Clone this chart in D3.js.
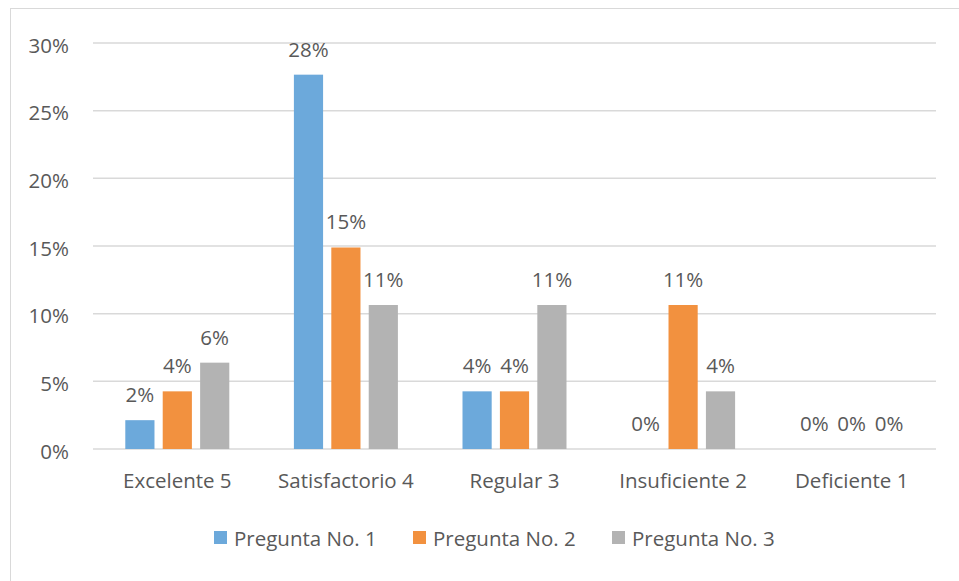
<!DOCTYPE html>
<html>
<head>
<meta charset="utf-8">
<script src="https://cdn.jsdelivr.net/npm/d3@7"></script>
<style>
  body { margin: 0; background: #fff; }
  svg text { font-family: "Open Sans", "Noto Sans", sans-serif; fill: #595959; }
</style>
</head>
<body>
<svg id="chart" width="959" height="581"></svg>
<script>
// datos (fracciones de 47 respuestas)
const categories = ['Excelente 5', 'Satisfactorio 4', 'Regular 3', 'Insuficiente 2', 'Deficiente 1'];
const seriesNames = ['Pregunta No. 1', 'Pregunta No. 2', 'Pregunta No. 3'];
const pregunta1 = [0.0213, 0.2766, 0.0426, 0, 0];
const pregunta2 = [0.0426, 0.1489, 0.0426, 0.1064, 0];
const pregunta3 = [0.0638, 0.1064, 0.1064, 0.0426, 0];
const yTicks = [0, 0.05, 0.10, 0.15, 0.20, 0.25, 0.30];
const colors = ['#6CA9DB', '#F2913F', '#B3B3B3'];

const values = [pregunta1, pregunta2, pregunta3];
const svg = d3.select('#chart');
const fontSize = '20.5px';

// marco del area del grafico
svg.append('rect')
    .attr('x', 10.5).attr('y', 8.5)
    .attr('width', 960).attr('height', 580)
    .attr('fill', 'none')
    .attr('stroke', '#d9d9d9')
    .attr('stroke-width', 1);

const plotLeft = 93, plotRight = 936, plotTop = 43, plotBottom = 449;

const x = d3.scaleBand()
    .domain(categories)
    .range([plotLeft, plotRight]);

const y = d3.scaleLinear()
    .domain([0, 0.30])
    .range([plotBottom, plotTop]);

const inner = d3.scaleBand()
    .domain(seriesNames)
    .range([-52, 52])
    .paddingInner(0.22);

// lineas de la cuadricula
svg.append('g')
    .selectAll('line')
    .data(yTicks)
    .enter()
    .append('line')
    .attr('x1', plotLeft).attr('x2', plotRight)
    .attr('y1', d => y(d)).attr('y2', d => y(d))
    .attr('stroke', '#d9d9d9')
    .attr('stroke-width', 1.5);

// eje y
const yAxis = svg.append('g')
    .attr('transform', `translate(${plotLeft},0)`)
    .call(d3.axisLeft(y).tickValues(yTicks).tickFormat(d3.format('.0%')).tickSize(0).tickPadding(24));
yAxis.select('.domain').remove();
yAxis.selectAll('text').style('font-size', fontSize).attr('fill', '#595959').attr('dy', '0.45em');

// eje x
const xAxis = svg.append('g')
    .attr('transform', `translate(0,${plotBottom})`)
    .call(d3.axisBottom(x).tickSize(0).tickPadding(24));
xAxis.select('.domain').remove();
xAxis.selectAll('text').style('font-size', fontSize).attr('fill', '#595959');

// barras
seriesNames.forEach((name, s) => {
    const g = svg.append('g');
    const data = categories.map((c, i) => ({ cat: c, v: values[s][i] }));
    const cx = d => x(d.cat) + x.bandwidth() / 2 + inner(name);

    g.selectAll('rect')
        .data(data)
        .enter()
        .append('rect')
        .attr('x', cx)
        .attr('y', d => y(d.v))
        .attr('width', inner.bandwidth())
        .attr('height', d => plotBottom - y(d.v))
        .attr('fill', colors[s]);

    g.selectAll('text')
        .data(data)
        .enter()
        .append('text')
        .attr('x', d => cx(d) + inner.bandwidth() / 2)
        .attr('y', d => y(d.v) - 18)
        .attr('text-anchor', 'middle')
        .style('font-size', fontSize)
        .text(d => d3.format('.0%')(d.v));
});

// leyenda
const legendX = [214, 413, 612];
const legend = svg.append('g');
seriesNames.forEach((name, s) => {
    legend.append('rect')
        .attr('x', legendX[s]).attr('y', 531)
        .attr('width', 13).attr('height', 13)
        .attr('fill', colors[s]);
    legend.append('text')
        .attr('x', legendX[s] + 20).attr('y', 546)
        .style('font-size', fontSize)
        .text(name);
});
</script>
</body>
</html>
